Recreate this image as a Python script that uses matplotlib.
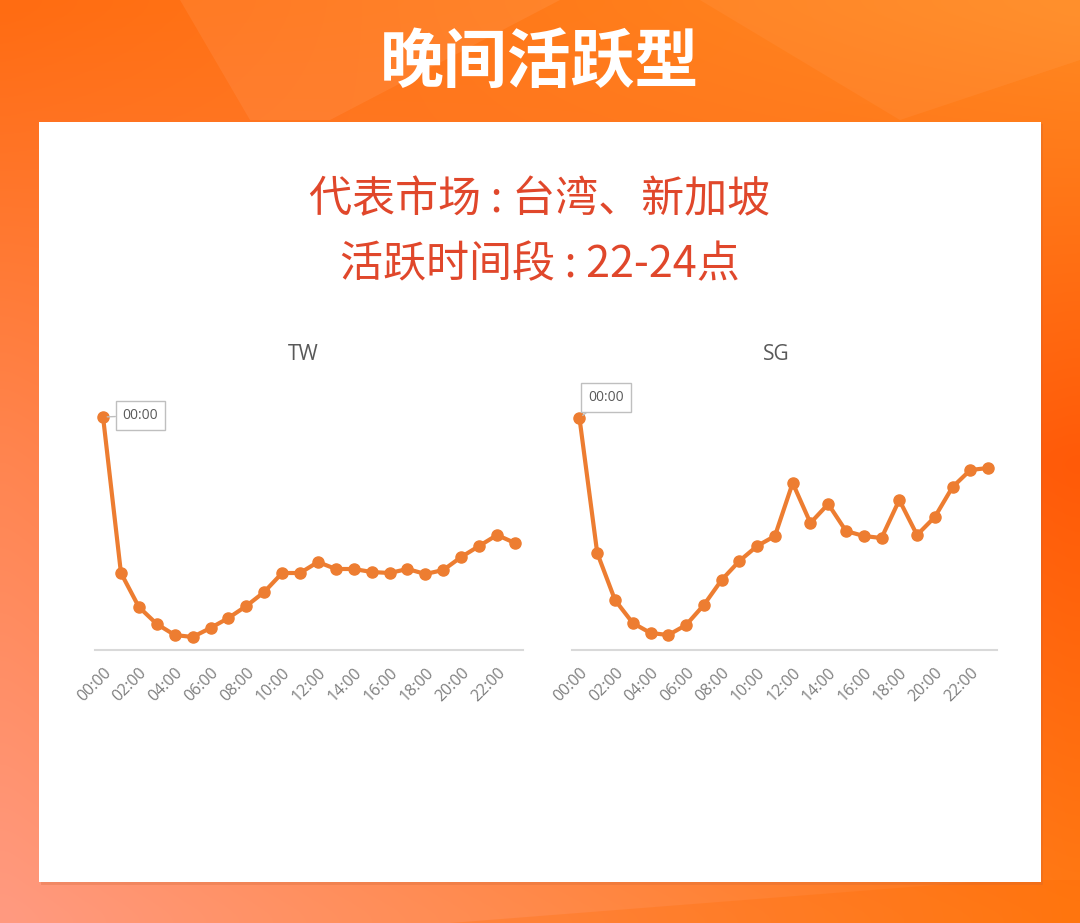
import numpy as np
import matplotlib
matplotlib.use("Agg")
import matplotlib.pyplot as plt
from matplotlib.patches import Rectangle, Polygon

plt.rcParams['font.family'] = ['Noto Sans CJK SC', 'DejaVu Sans']

# ---------------- data ----------------
hours = list(range(24))
tick_positions = list(range(0, 24, 2))
tick_labels = [f"{h:02d}:00" for h in tick_positions]
tw_values = [233, 77, 43, 26, 15, 13, 22, 32, 44, 58, 77, 77, 88, 81, 81, 78, 77, 81, 76, 80, 93, 104, 115, 107]
sg_values = [232, 97, 50, 27, 17, 15, 25, 45, 70, 89, 104, 114, 167, 127, 146, 119, 114, 112, 150, 115, 133, 163, 180, 182]
chart_titles = ["TW", "SG"]
callout_text = "00:00"
main_title = "晚间活跃型"
sub_line1 = "代表市场 : 台湾、新加坡"
sub_line2 = "活跃时间段 : 22-24点"

W, H = 1080, 923
fig = plt.figure(figsize=(W / 100, H / 100), dpi=100)

def fx(x):
    return x / W

def fy(y):
    return 1 - y / H

# ---------------- background gradient ----------------
bg = fig.add_axes([0, 0, 1, 1])
bg.set_xlim(0, W)
bg.set_ylim(H, 0)
bg.axis('off')

def hexrgb(h):
    h = h.lstrip('#')
    return np.array([int(h[i:i + 2], 16) for i in (0, 2, 4)]) / 255.0

ny, nx = 60, 70
yy, xx = np.mgrid[0:1:ny * 1j, 0:1:nx * 1j]
tl, tr = hexrgb('#FF6C12'), hexrgb('#FF8A22')
bl, br = hexrgb('#FF9A80'), hexrgb('#FF7A14')
ml, mr = hexrgb('#FF8550'), hexrgb('#FF5A08')
img = np.zeros((ny, nx, 3))
for c in range(3):
    top = tl[c] * (1 - xx) + tr[c] * xx
    mid = ml[c] * (1 - xx) + mr[c] * xx
    bot = bl[c] * (1 - xx) + br[c] * xx
    img[..., c] = np.where(yy < 0.5, top * (1 - yy * 2) + mid * (yy * 2),
                           mid * (2 - yy * 2) + bot * (yy * 2 - 1))
bg.imshow(np.clip(img, 0, 1), extent=[0, W, H, 0], aspect='auto', interpolation='bicubic', zorder=0)
# soft facets
bg.add_patch(Polygon([[180, 0], [560, 0], [330, 120], [250, 120]], closed=True, color='white', alpha=0.07, lw=0, zorder=1))
bg.add_patch(Polygon([[700, 0], [1080, 0], [1080, 60], [900, 120]], closed=True, color='white', alpha=0.05, lw=0, zorder=1))
bg.add_patch(Polygon([[450, 923], [1080, 923], [1080, 880], [1000, 880]], closed=True, color='#FF6A00', alpha=0.25, lw=0, zorder=1))

# white panel with faint shadow
bg.add_patch(Rectangle((41, 124), 1002, 761, color='#C86030', alpha=0.25, lw=0, zorder=2))
bg.add_patch(Rectangle((39, 122), 1002, 760, facecolor='white', edgecolor='none', zorder=3))

# titles
bg.text(540, 63, main_title, color='white', fontsize=46, fontweight='bold',
        ha='center', va='center', zorder=4)
red = '#E0472B'
bg.text(540, 200, sub_line1, color=red, fontsize=31, fontweight='medium',
        ha='center', va='center', zorder=4)
bg.text(540, 265, sub_line2, color=red, fontsize=31, fontweight='medium',
        ha='center', va='center', zorder=4)

# ---------------- charts ----------------
line_color = '#ED7D31'
specs = [
    (tw_values, 95, 523, (-0.45, 23.45), chart_titles[0], 303, (27, 1)),
    (sg_values, 572, 997, (-0.42, 23.5), chart_titles[1], 776, (19, 15)),
]
top_px, base_px = 390, 650
for vals, x0, x1, xl, ttl, tx, off in specs:
    ax = fig.add_axes([fx(x0), fy(base_px), fx(x1) - fx(x0), (base_px - top_px) / H])
    ax.set_zorder(5)
    ax.patch.set_alpha(0)
    ax.plot(hours, vals, color=line_color, lw=3, marker='o', ms=8,
            markerfacecolor=line_color, markeredgecolor=line_color, clip_on=False)
    ax.set_xlim(*xl)
    ax.set_ylim(0, 260)
    for s in ['top', 'right', 'left']:
        ax.spines[s].set_visible(False)
    ax.spines['bottom'].set_color('#D9D9D9')
    ax.spines['bottom'].set_linewidth(1.5)
    ax.set_yticks([])
    ax.set_xticks(tick_positions)
    ax.set_xticklabels(tick_labels, rotation=45, ha='right', rotation_mode='anchor',
                       fontsize=11.5, color='#7F7F7F', family=['Open Sans', 'DejaVu Sans'])
    ax.tick_params(axis='x', length=0, pad=11)
    ax.annotate(callout_text, xy=(0, vals[0]), xytext=off, textcoords='offset points',
                ha='center', va='center', fontsize=10, color='#595959',
                family=['Open Sans', 'DejaVu Sans'],
                bbox=dict(boxstyle='square,pad=0.5', fc='white', ec='#BFBFBF', lw=1),
                arrowprops=dict(arrowstyle='-', color='#BFBFBF', lw=1, shrinkA=0, shrinkB=3),
                annotation_clip=False)
    bg.text(tx, 355, ttl, color='#595959', fontsize=15, ha='center', va='center',
            family=['Open Sans', 'DejaVu Sans'], zorder=4)

fig.savefig('out.png', dpi=100)
